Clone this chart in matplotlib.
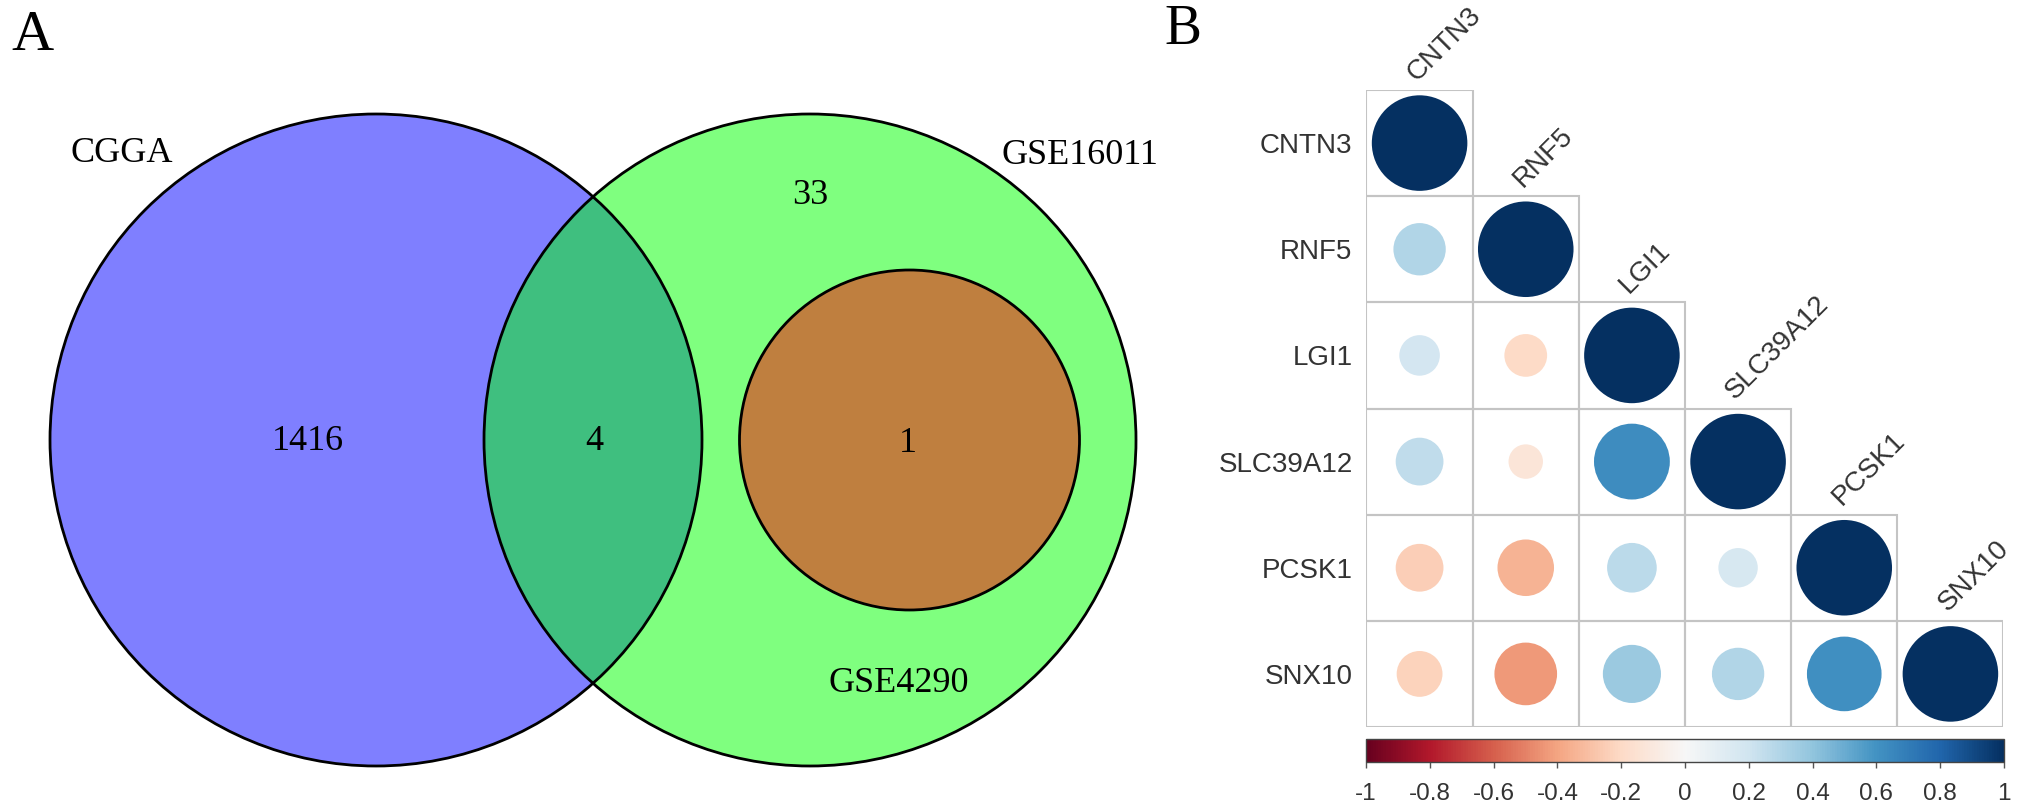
import numpy as np
import matplotlib
matplotlib.use('Agg')
import matplotlib.pyplot as plt
from matplotlib.patches import Circle, Rectangle
import matplotlib.colors as mcolors
from matplotlib.cm import ScalarMappable

# ---------------- data ----------------
set_names = ['CGGA', 'GSE16011', 'GSE4290']
region_counts = [1416, 4, 33, 1]   # CGGA only, CGGA&GSE16011, GSE16011 only, GSE4290 (inside GSE16011)

genes = ['CNTN3', 'RNF5', 'LGI1', 'SLC39A12', 'PCSK1', 'SNX10']
corr_lower = [
    [1.00],
    [0.30, 1.00],
    [0.18, -0.20, 1.00],
    [0.25, -0.13, 0.63, 1.00],
    [-0.25, -0.35, 0.27, 0.17, 1.00],
    [-0.23, -0.43, 0.37, 0.30, 0.61, 1.00],
]
cbar_ticks = [-1, -0.8, -0.6, -0.4, -0.2, 0, 0.2, 0.4, 0.6, 0.8, 1]
cbar_ticklabels = ['-1', '-0.8', '-0.6', '-0.4', '-0.2', '0', '0.2', '0.4', '0.6', '0.8', '1']

# ---------------- figure ----------------
W, H = 2031, 808
fig = plt.figure(figsize=(W / 100, H / 100), dpi=100)
fig.patch.set_facecolor('white')

serif = 'Liberation Serif'
sans = 'Liberation Sans'

# ---- Panel A: Venn diagram (pixel layout) ----
ax = fig.add_axes([0, 0, 1, 1])
ax.set_xlim(0, W)
ax.set_ylim(H, 0)
ax.axis('off')

venn_circles = [  # (cx, cy, r, rgb)
    (376, 440, 326, (0, 0, 1)),
    (810, 440, 326, (0, 1, 0)),
    (909.5, 440, 170, (1, 0, 0)),
]
for cx, cy, r, rgb in venn_circles:
    ax.add_patch(Circle((cx, cy), r, facecolor=rgb + (0.5,), edgecolor='none', zorder=1))
for cx, cy, r, rgb in venn_circles:
    ax.add_patch(Circle((cx, cy), r, facecolor='none', edgecolor='black', lw=2.0, zorder=2))

count_pos = [(308, 441), (594, 441), (810, 195), (908, 443)]
for (x, y), c in zip(count_pos, region_counts):
    ax.text(x, y, str(c), ha='center', va='center', fontsize=26, family=serif, zorder=3)

name_pos = [(122, 154), (1080, 155), (899, 684)]
for (x, y), n in zip(name_pos, set_names):
    ax.text(x, y, n, ha='center', va='center', fontsize=26, family=serif, zorder=3)

ax.text(32, 36, 'A', ha='center', va='center', fontsize=42, family=serif)
ax.text(1183, 30, 'B', ha='center', va='center', fontsize=40, family=serif)

# ---- Panel B: correlation plot ----
n = len(genes)
gx0, gy0, gsz = 1366.5, 90, 637
axc = fig.add_axes([gx0 / W, (H - gy0 - gsz) / H, gsz / W, gsz / H])
axc.set_xlim(-0.5, n - 0.5)
axc.set_ylim(n - 0.5, -0.5)
for s in axc.spines.values():
    s.set_visible(False)
axc.set_xticks([])
axc.set_yticks(range(n))
axc.set_yticklabels(genes, fontsize=20, color='#333333', family=sans)
axc.tick_params(axis='y', length=0, pad=10)

cmap = plt.get_cmap('RdBu')
norm = mcolors.Normalize(vmin=-1, vmax=1)

for i, row in enumerate(corr_lower):
    for j, v in enumerate(row):
        axc.add_patch(Rectangle((j - 0.5, i - 0.5), 1, 1, facecolor='none',
                                edgecolor='#c4c4c4', lw=1.5, zorder=1))
        rad = 0.45 * np.sqrt(abs(v))
        axc.add_patch(Circle((j, i), rad, facecolor=cmap(norm(v)), edgecolor='none', zorder=2))

for j, g in enumerate(genes):
    axc.annotate(g, xy=(j, j - 0.5), xytext=(1, 3), textcoords='offset points',
                 rotation=45, rotation_mode='anchor', ha='left', va='bottom',
                 fontsize=20, color='#333333', family=sans, annotation_clip=False)

# colorbar
cax = fig.add_axes([1366 / W, (H - 762) / H, 638 / W, 23 / H])
cb = fig.colorbar(ScalarMappable(norm=norm, cmap=cmap), cax=cax,
                  orientation='horizontal', ticks=cbar_ticks)
cb.set_ticklabels(cbar_ticklabels)
cb.outline.set_edgecolor('#444444')
cb.outline.set_linewidth(1.0)
cax.tick_params(length=4, width=1, color='#555555', labelsize=17.5,
                labelcolor='#333333', pad=11)
for lab in cax.get_xticklabels():
    lab.set_family(sans)

fig.savefig('out.png', dpi=100, facecolor='white')
